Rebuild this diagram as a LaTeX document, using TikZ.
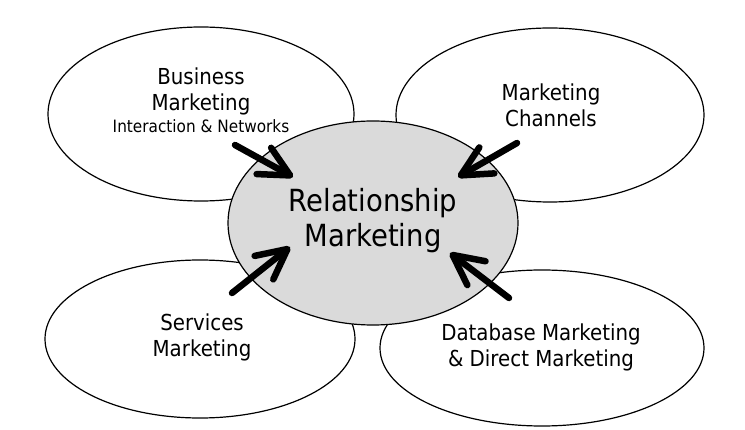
\documentclass[tikz,border=0pt]{standalone}
\usepackage{fontspec}
\setmainfont{DejaVu Sans}[FakeStretch=0.9]
\usetikzlibrary{shapes.geometric,arrows.meta}
\definecolor{hubgray}{RGB}{218,218,218}
\tikzset{
  topic/.style={ellipse, draw=black, line width=1.2pt, fill=white, inner sep=0pt},
  hub/.style={ellipse, draw=black, line width=1.2pt, fill=hubgray, inner sep=0pt},
  lbl/.style={align=center, anchor=base, inner sep=0pt, font=\fontsize{22}{26.5}\selectfont},
  biglbl/.style={align=center, anchor=base, inner sep=0pt, font=\fontsize{30.5}{35}\selectfont},
  bigarrow/.style={line width=6.5pt, line cap=round, -{Straight Barb[length=30pt,width=30pt,round]}}
}
\begin{document}
\begin{tikzpicture}[x=1pt,y=-1pt]
\useasboundingbox (0,0) rectangle (745,430);
% outer ellipses
\node[topic, minimum width=306pt, minimum height=174pt] (bm) at (201,114) {};
\node[topic, minimum width=308pt, minimum height=174pt] (mc) at (550,115) {};
\node[topic, minimum width=310pt, minimum height=158pt] (sm) at (200,339) {};
\node[topic, minimum width=324pt, minimum height=156pt] (dm) at (542,348) {};
% hub
\node[hub, minimum width=290pt, minimum height=204pt] (rm) at (373,223) {};
% labels (anchored at the baseline of the last line)
\node[lbl] (bmt) at (201,133) {Business\\Marketing\\[-4.5pt]{\fontsize{17}{20}\selectfont Interaction \& Networks}};
\node[lbl] (mct) at (551,127) {Marketing\\Channels};
\node[lbl] (smt) at (202,357) {Services\\Marketing};
\node[lbl] (dmt) at (541,367) {Database Marketing\\\& Direct Marketing};
\node[biglbl] (rmt) at (373,247) {Relationship\\Marketing};
% arrow ends
\coordinate (t1) at (235,145); \coordinate (h1) at (293,177);
\coordinate (t2) at (517,143); \coordinate (h2) at (458,177);
\coordinate (t3) at (232,293); \coordinate (h3) at (290,247);
\coordinate (t4) at (509,298); \coordinate (h4) at (450,253);
\draw[bigarrow] (t1) -- (h1);
\draw[bigarrow] (t2) -- (h2);
\draw[bigarrow] (t3) -- (h3);
\draw[bigarrow] (t4) -- (h4);
\end{tikzpicture}
\end{document}
